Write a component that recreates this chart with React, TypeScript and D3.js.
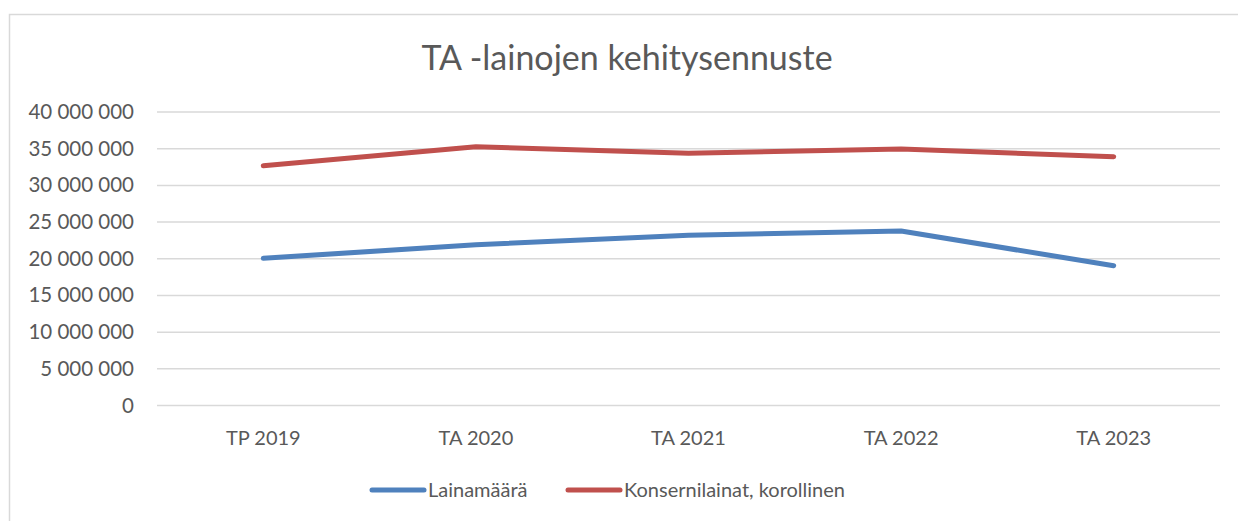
import React from "react";
import * as d3 from "d3";

const categories = ["TP 2019", "TA 2020", "TA 2021", "TA 2022", "TA 2023"];
const lainamaara = [20060000, 21900000, 23200000, 23780000, 19050000];
const konsernilainat = [32680000, 35270000, 34370000, 34960000, 33910000];
const yTicks = [0, 5000000, 10000000, 15000000, 20000000, 25000000, 30000000, 35000000, 40000000];
const seriesNames = ["Lainamäärä", "Konsernilainat, korollinen"];
const title = "TA -lainojen kehitysennuste";

const W = 1238, H = 521;
const FONT = "Lato, 'Open Sans', sans-serif";
const TEXT = "#595959";
const GRID = "#D9D9D9";
const BLUE = "#4F81BD";
const RED = "#C0504D";

const fmt = (v: number) => d3.format(",")(v).replace(/,/g, " ");

export default function App() {
  const x = d3.scaleBand<string>().domain(categories).range([157, 1220]);
  const y = d3.scaleLinear().domain([0, 40000000]).range([405.5, 112]);
  const cx = (c: string) => (x(c) as number) + x.bandwidth() / 2;
  const line = d3
    .line<number>()
    .x((_, i) => cx(categories[i]))
    .y((d) => y(d));
  const series = [
    { name: seriesNames[0], values: lainamaara, color: BLUE },
    { name: seriesNames[1], values: konsernilainat, color: RED },
  ];
  const legend = [
    { x0: 372, x1: 424, tx: 428 },
    { x0: 568, x1: 620, tx: 624 },
  ];
  return (
    <svg
      width={W}
      height={H}
      style={{ position: "absolute", left: 0, top: 0, background: "#fff" }}
      fontFamily={FONT}
    >
      <rect x={9.5} y={14.5} width={W} height={H} fill="#fff" stroke={GRID} strokeWidth={1.5} />
      <text x={627} y={70} textAnchor="middle" fontSize={34} fill={TEXT}>
        {title}
      </text>
      {yTicks.map((t) => (
        <g key={t}>
          <line x1={157} x2={1220} y1={y(t)} y2={y(t)} stroke={GRID} strokeWidth={1.5} />
          <text x={134} y={y(t) + 7} textAnchor="end" fontSize={20.5} fill={TEXT}>
            {fmt(t)}
          </text>
        </g>
      ))}
      {categories.map((c) => (
        <text key={c} x={cx(c)} y={445} textAnchor="middle" fontSize={20} fill={TEXT}>
          {c}
        </text>
      ))}
      {series.map((s) => (
        <path
          key={s.name}
          d={line(s.values) || ""}
          fill="none"
          stroke={s.color}
          strokeWidth={5}
          strokeLinecap="round"
          strokeLinejoin="round"
        />
      ))}
      {series.map((s, i) => (
        <g key={s.name}>
          <line
            x1={legend[i].x0}
            x2={legend[i].x1}
            y1={490}
            y2={490}
            stroke={s.color}
            strokeWidth={5}
            strokeLinecap="round"
          />
          <text x={legend[i].tx} y={497} fontSize={20} fill={TEXT}>
            {s.name}
          </text>
        </g>
      ))}
    </svg>
  );
}
